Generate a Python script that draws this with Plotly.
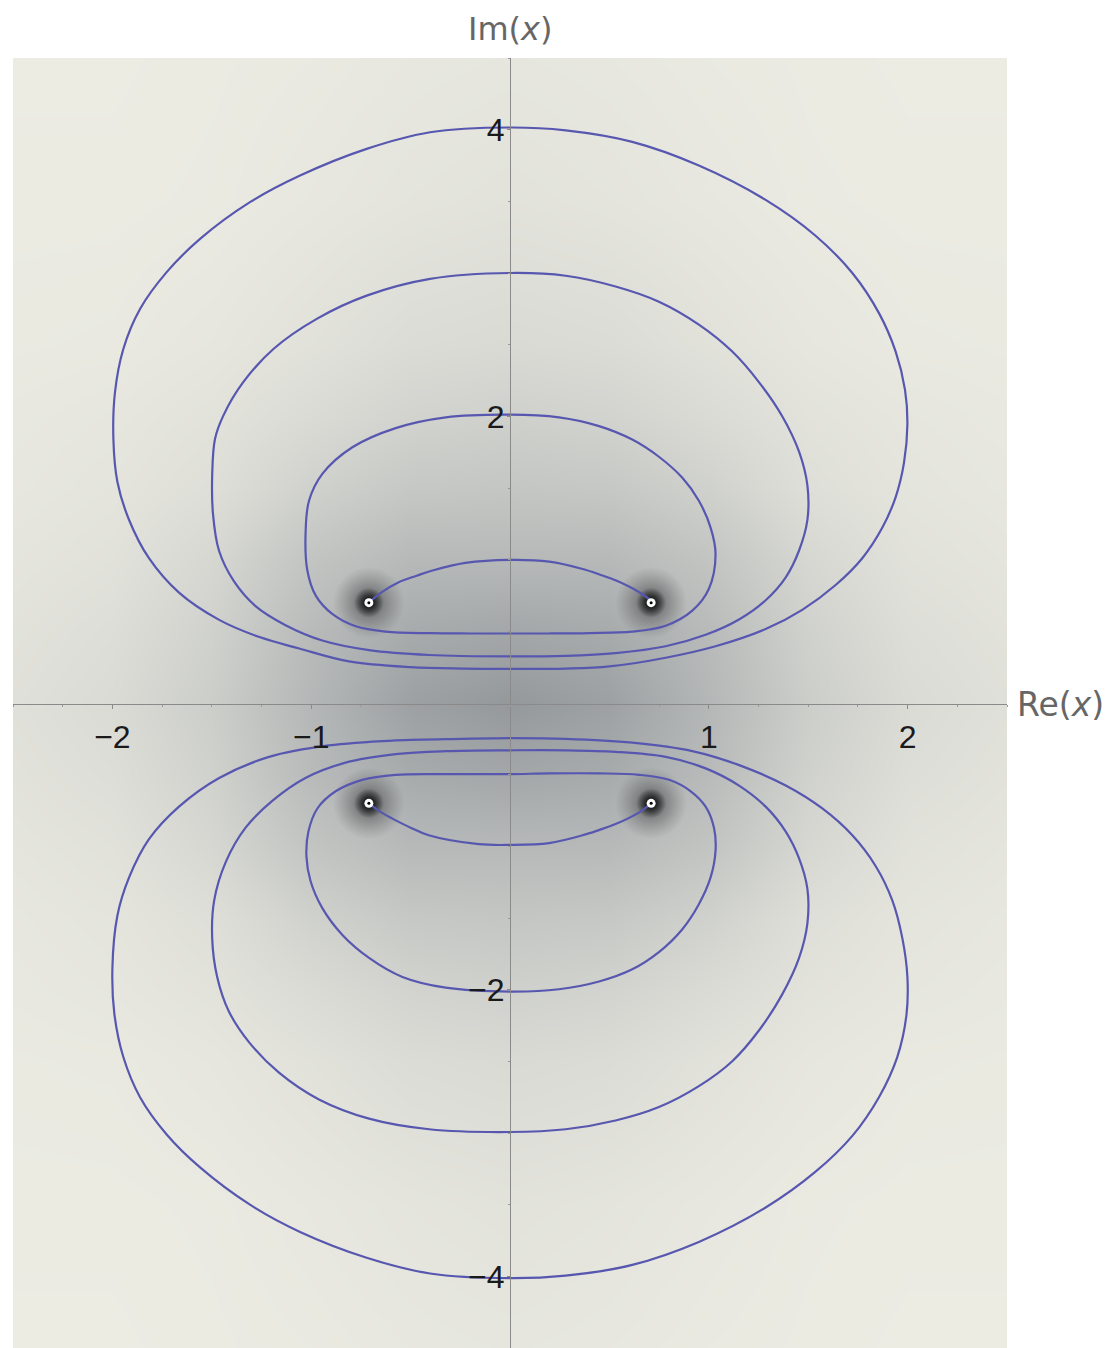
import plotly.graph_objects as go

# ---------------- data ----------------
# contour curves (Re, Im) -- upper half plane
c1_top_x = [-0.71, -0.645, -0.56, -0.47, -0.39, -0.224, 0.0, 0.197, 0.365, 0.45, 0.534, 0.65, 0.71]
c1_top_y = [0.70, 0.773, 0.843, 0.888, 0.924, 0.977, 0.998, 0.986, 0.935, 0.897, 0.854, 0.773, 0.714]

c2_top_x = [0.0, -0.323, -0.575, -0.793, -0.944, -1.011, -1.028, -1.02, -0.977, -0.894, -0.776, -0.625, -0.40, -0.20, 0.0,
            0.196, 0.40, 0.615, 0.783, 0.917, 1.0, 1.034, 1.009, 0.95, 0.867, 0.749, 0.615, 0.448, 0.246, 0.0]
c2_top_y = [2.012, 1.993, 1.918, 1.784, 1.598, 1.411, 1.197, 0.93, 0.749, 0.621, 0.535, 0.498, 0.487, 0.485, 0.485,
            0.485, 0.488, 0.498, 0.539, 0.644, 0.795, 1.037, 1.224, 1.411, 1.571, 1.718, 1.838, 1.932, 1.993, 2.012]

c3_top_x = [0.0, -0.402, -0.721, -0.972, -1.19, -1.342, -1.442, -1.484, -1.498, -1.494, -1.464, -1.389, -1.28, -1.129,
            -0.944, -0.709, -0.407, 0.0,
            0.28, 0.531, 0.783, 0.984, 1.152, 1.286, 1.387, 1.454, 1.496, 1.496, 1.454, 1.37, 1.252, 1.118, 0.95,
            0.749, 0.531, 0.28, 0.0]
c3_top_y = [3.0, 2.959, 2.842, 2.68, 2.47, 2.238, 2.005, 1.842, 1.59, 1.32, 1.064, 0.85, 0.676, 0.543,
            0.436, 0.369, 0.335, 0.325,
            0.329, 0.348, 0.396, 0.476, 0.583, 0.717, 0.877, 1.064, 1.277, 1.518, 1.753, 1.999, 2.239, 2.452, 2.64,
            2.80, 2.906, 2.981, 3.0]

c4_top_x = [0.0, -0.402, -0.721, -1.056, -1.308, -1.559, -1.727, -1.861, -1.945, -1.987, -1.995, -1.975, -1.916,
            -1.816, -1.665, -1.463, -1.26, -1.06, -0.81, -0.50, -0.24, 0.0,
            0.28, 0.50, 0.783, 1.034, 1.286, 1.47, 1.638, 1.772, 1.873, 1.94, 1.982, 1.999, 1.987, 1.94, 1.856,
            1.722, 1.537, 1.286, 0.95, 0.615, 0.28, 0.0]
c4_top_y = [4.015, 3.982, 3.866, 3.68, 3.494, 3.238, 3.006, 2.749, 2.47, 2.168, 1.842, 1.544, 1.277,
            1.01, 0.77, 0.58, 0.46, 0.38, 0.29, 0.25, 0.24, 0.238,
            0.24, 0.255, 0.316, 0.396, 0.516, 0.65, 0.823, 1.01, 1.224, 1.437, 1.677, 1.945, 2.185, 2.452, 2.72,
            3.0, 3.26, 3.51, 3.75, 3.915, 3.995, 4.015]

# lower half plane
c1_bot_x = [-0.71, -0.645, -0.577, -0.50, -0.409, -0.157, 0.0, 0.197, 0.365, 0.45, 0.534, 0.65, 0.71]
c1_bot_y = [-0.70, -0.765, -0.817, -0.87, -0.923, -0.985, -0.99, -0.977, -0.923, -0.885, -0.843, -0.763, -0.70]

c2_bot_x = [0.0, -0.323, -0.575, -0.743, -0.877, -0.969, -1.014, -1.024, -1.003, -0.944, -0.843, -0.709, -0.541,
            -0.323, 0.0,
            0.246, 0.448, 0.615, 0.749, 0.867, 0.95, 1.009, 1.034, 1.026, 0.984, 0.909, 0.80, 0.649, 0.448, 0.196, 0.0]
c2_bot_y = [-0.496, -0.496, -0.501, -0.536, -0.616, -0.736, -0.897, -1.07, -1.244, -1.431, -1.618, -1.778, -1.911,
            -1.986, -2.013,
            -1.997, -1.943, -1.858, -1.738, -1.578, -1.404, -1.217, -1.03, -0.87, -0.723, -0.616, -0.536, -0.501,
            -0.491, -0.491, -0.496]

c3_bot_x = [0.0, -0.323, -0.575, -0.827, -1.029, -1.196, -1.33, -1.43, -1.488, -1.498, -1.473, -1.414, -1.313,
            -1.162, -0.961, -0.709, -0.407, 0.0,
            0.28, 0.531, 0.749, 0.95, 1.118, 1.252, 1.37, 1.454, 1.496, 1.496, 1.454, 1.387, 1.286, 1.152, 0.984,
            0.783, 0.531, 0.28, 0.0]
c3_bot_y = [-0.33, -0.336, -0.357, -0.416, -0.523, -0.683, -0.87, -1.11, -1.377, -1.644, -1.911, -2.152, -2.366,
            -2.579, -2.766, -2.9, -2.974, -2.993,
            -2.974, -2.913, -2.819, -2.673, -2.499, -2.285, -2.031, -1.778, -1.537, -1.297, -1.084, -0.897, -0.723,
            -0.576, -0.456, -0.376, -0.341, -0.33, -0.33]

c4_bot_x = [0.0, -0.24, -0.576, -0.911, -1.212, -1.463, -1.665, -1.816, -1.916, -1.975, -2.0, -1.99, -1.945,
            -1.861, -1.727, -1.559, -1.308, -1.056, -0.721, -0.402, 0.0,
            0.28, 0.615, 0.95, 1.286, 1.537, 1.722, 1.856, 1.948, 1.994, 1.999, 1.974, 1.923, 1.839, 1.722, 1.571,
            1.387, 1.169, 0.917, 0.615, 0.28, 0.0]
c4_bot_y = [-0.245, -0.25, -0.261, -0.296, -0.376, -0.523, -0.723, -0.95, -1.217, -1.484, -1.85, -2.17, -2.47,
            -2.75, -3.01, -3.24, -3.50, -3.69, -3.87, -3.98, -4.013,
            -3.995, -3.92, -3.76, -3.52, -3.27, -3.02, -2.75, -2.47, -2.179, -1.911, -1.644, -1.377, -1.137,
            -0.923, -0.736, -0.576, -0.442, -0.336, -0.277, -0.25, -0.245]

# singular points
sing_x = [-0.71, 0.71, -0.71, 0.71]
sing_y = [0.70, 0.70, -0.70, -0.70]

# background brightness (grey level) on a coarse grid
bg_x = [-2.75, -2.0, -1.5, -1.0, -0.5, 0.0, 0.5, 1.0, 1.5, 2.0, 2.75]
bg_y = [-4.75, -3.5, -2.5, -2.0, -1.5, -1.0, -0.5, 0.0, 0.5, 1.0, 1.5, 2.0, 2.5, 3.5, 4.75]
bg_shade = [
    [236, 236, 235, 234, 232, 231, 232, 234, 235, 236, 236],
    [235, 235, 234, 231, 228, 226, 228, 231, 234, 235, 235],
    [234, 233, 230, 225, 219, 217, 219, 225, 230, 233, 234],
    [233, 230, 226, 218, 210, 207, 210, 218, 226, 230, 233],
    [232, 228, 222, 208, 198, 196, 198, 208, 222, 228, 232],
    [230, 225, 214, 194, 182, 182, 182, 194, 214, 225, 230],
    [228, 221, 208, 184, 168, 164, 168, 184, 208, 221, 228],
    [226, 218, 204, 180, 158, 150, 158, 180, 204, 218, 226],
    [228, 221, 208, 184, 168, 164, 168, 184, 208, 221, 228],
    [230, 225, 214, 194, 182, 182, 182, 194, 214, 225, 230],
    [232, 228, 222, 208, 198, 196, 198, 208, 222, 228, 232],
    [233, 230, 226, 218, 210, 207, 210, 218, 226, 230, 233],
    [234, 233, 230, 225, 219, 217, 219, 225, 230, 233, 234],
    [235, 235, 234, 231, 228, 226, 228, 231, 234, 235, 235],
    [236, 236, 235, 234, 232, 231, 232, 234, 235, 236, 236],
]

x_tick_vals = [-2, -1, 1, 2]
x_tick_text = ["\u22122", "\u22121", "1", "2"]
y_tick_vals = [-4, -2, 2, 4]
y_tick_text = ["\u22124", "\u22122", "2", "4"]

# ---------------- figure ----------------
LINE = "#5757b0"
FONT = "Liberation Sans, Arial, sans-serif"
TFONT = "DejaVu Sans, sans-serif"

fig = go.Figure()

fig.add_trace(go.Heatmap(
    x=bg_x, y=bg_y, z=bg_shade, zsmooth="best", showscale=False,
    zmin=120, zmax=236,
    colorscale=[[0, "rgb(116,122,128)"], [0.5, "rgb(178,181,181)"], [1, "rgb(236,236,227)"]],
    hoverinfo="skip",
))

# dark halos around singular points
fig.add_trace(go.Scatter(
    x=sing_x, y=sing_y, mode="markers", hoverinfo="skip",
    marker=dict(size=72, color="rgba(60,62,64,0)", line=dict(width=0),
                gradient=dict(type="radial", color="rgba(25,25,28,0.6)")),
))
fig.add_trace(go.Scatter(
    x=sing_x, y=sing_y, mode="markers", hoverinfo="skip",
    marker=dict(size=30, color="rgba(0,0,0,0)", line=dict(width=0),
                gradient=dict(type="radial", color="rgba(0,0,0,1)")),
))

curves = [
    (c1_top_x, c1_top_y), (c2_top_x, c2_top_y), (c3_top_x, c3_top_y), (c4_top_x, c4_top_y),
    (c1_bot_x, c1_bot_y), (c2_bot_x, c2_bot_y), (c3_bot_x, c3_bot_y), (c4_bot_x, c4_bot_y),
]
for cx, cy in curves:
    fig.add_trace(go.Scatter(
        x=cx, y=cy, mode="lines", hoverinfo="skip",
        line=dict(color=LINE, width=2.2, shape="spline", smoothing=1.0),
    ))

# white dots at singular points
fig.add_trace(go.Scatter(
    x=sing_x, y=sing_y, mode="markers", hoverinfo="skip",
    marker=dict(size=9, color="white", line=dict(width=0)),
))
fig.add_trace(go.Scatter(
    x=sing_x, y=sing_y, mode="markers", hoverinfo="skip",
    marker=dict(size=3, color="black", line=dict(width=0)),
))

fig.update_layout(
    width=1108, height=1340,
    margin=dict(l=5, r=109, t=50, b=0),
    paper_bgcolor="white", plot_bgcolor="rgb(236,236,227)",
    showlegend=False, hovermode=False,
    font=dict(family=FONT),
    xaxis=dict(
        range=[-2.5, 2.5], anchor="free", position=0.4992, side="bottom",
        showgrid=False, zeroline=False, showline=True, linecolor="#8a8a8a", linewidth=1,
        tickmode="array", tickvals=x_tick_vals, ticktext=x_tick_text,
        ticks="outside", ticklen=4, tickcolor="#8a8a8a", ticklabelstandoff=1,
        tickfont=dict(size=32, color="#1a1a1a", family=FONT),
        minor=dict(ticks="outside", ticklen=2, dtick=0.25, tickcolor="#9a9a9a"),
        layer="above traces",
    ),
    yaxis=dict(
        range=[-4.5, 4.5], anchor="free", position=0.5, side="left",
        showgrid=False, zeroline=False, showline=True, linecolor="#8a8a8a", linewidth=1,
        tickmode="array", tickvals=y_tick_vals, ticktext=y_tick_text,
        ticks="outside", ticklen=3, tickcolor="#8a8a8a", ticklabelstandoff=-4,
        tickfont=dict(size=32, color="#1a1a1a", family=FONT),
        minor=dict(ticks="outside", ticklen=2, dtick=0.5, tickcolor="#9a9a9a"),
        layer="above traces",
    ),
    annotations=[
        dict(text="Im(<i>x</i>)", xref="paper", yref="paper", x=0.5, y=1.0,
             xanchor="center", yanchor="bottom", yshift=8, showarrow=False,
             font=dict(size=32, color="#666666", family=TFONT)),
        dict(text="Re(<i>x</i>)", xref="paper", yref="paper", x=1.0, y=0.4992,
             xanchor="left", yanchor="middle", xshift=8, showarrow=False,
             font=dict(size=33, color="#666666", family=TFONT)),
    ],
)

fig.write_html("out.html")
